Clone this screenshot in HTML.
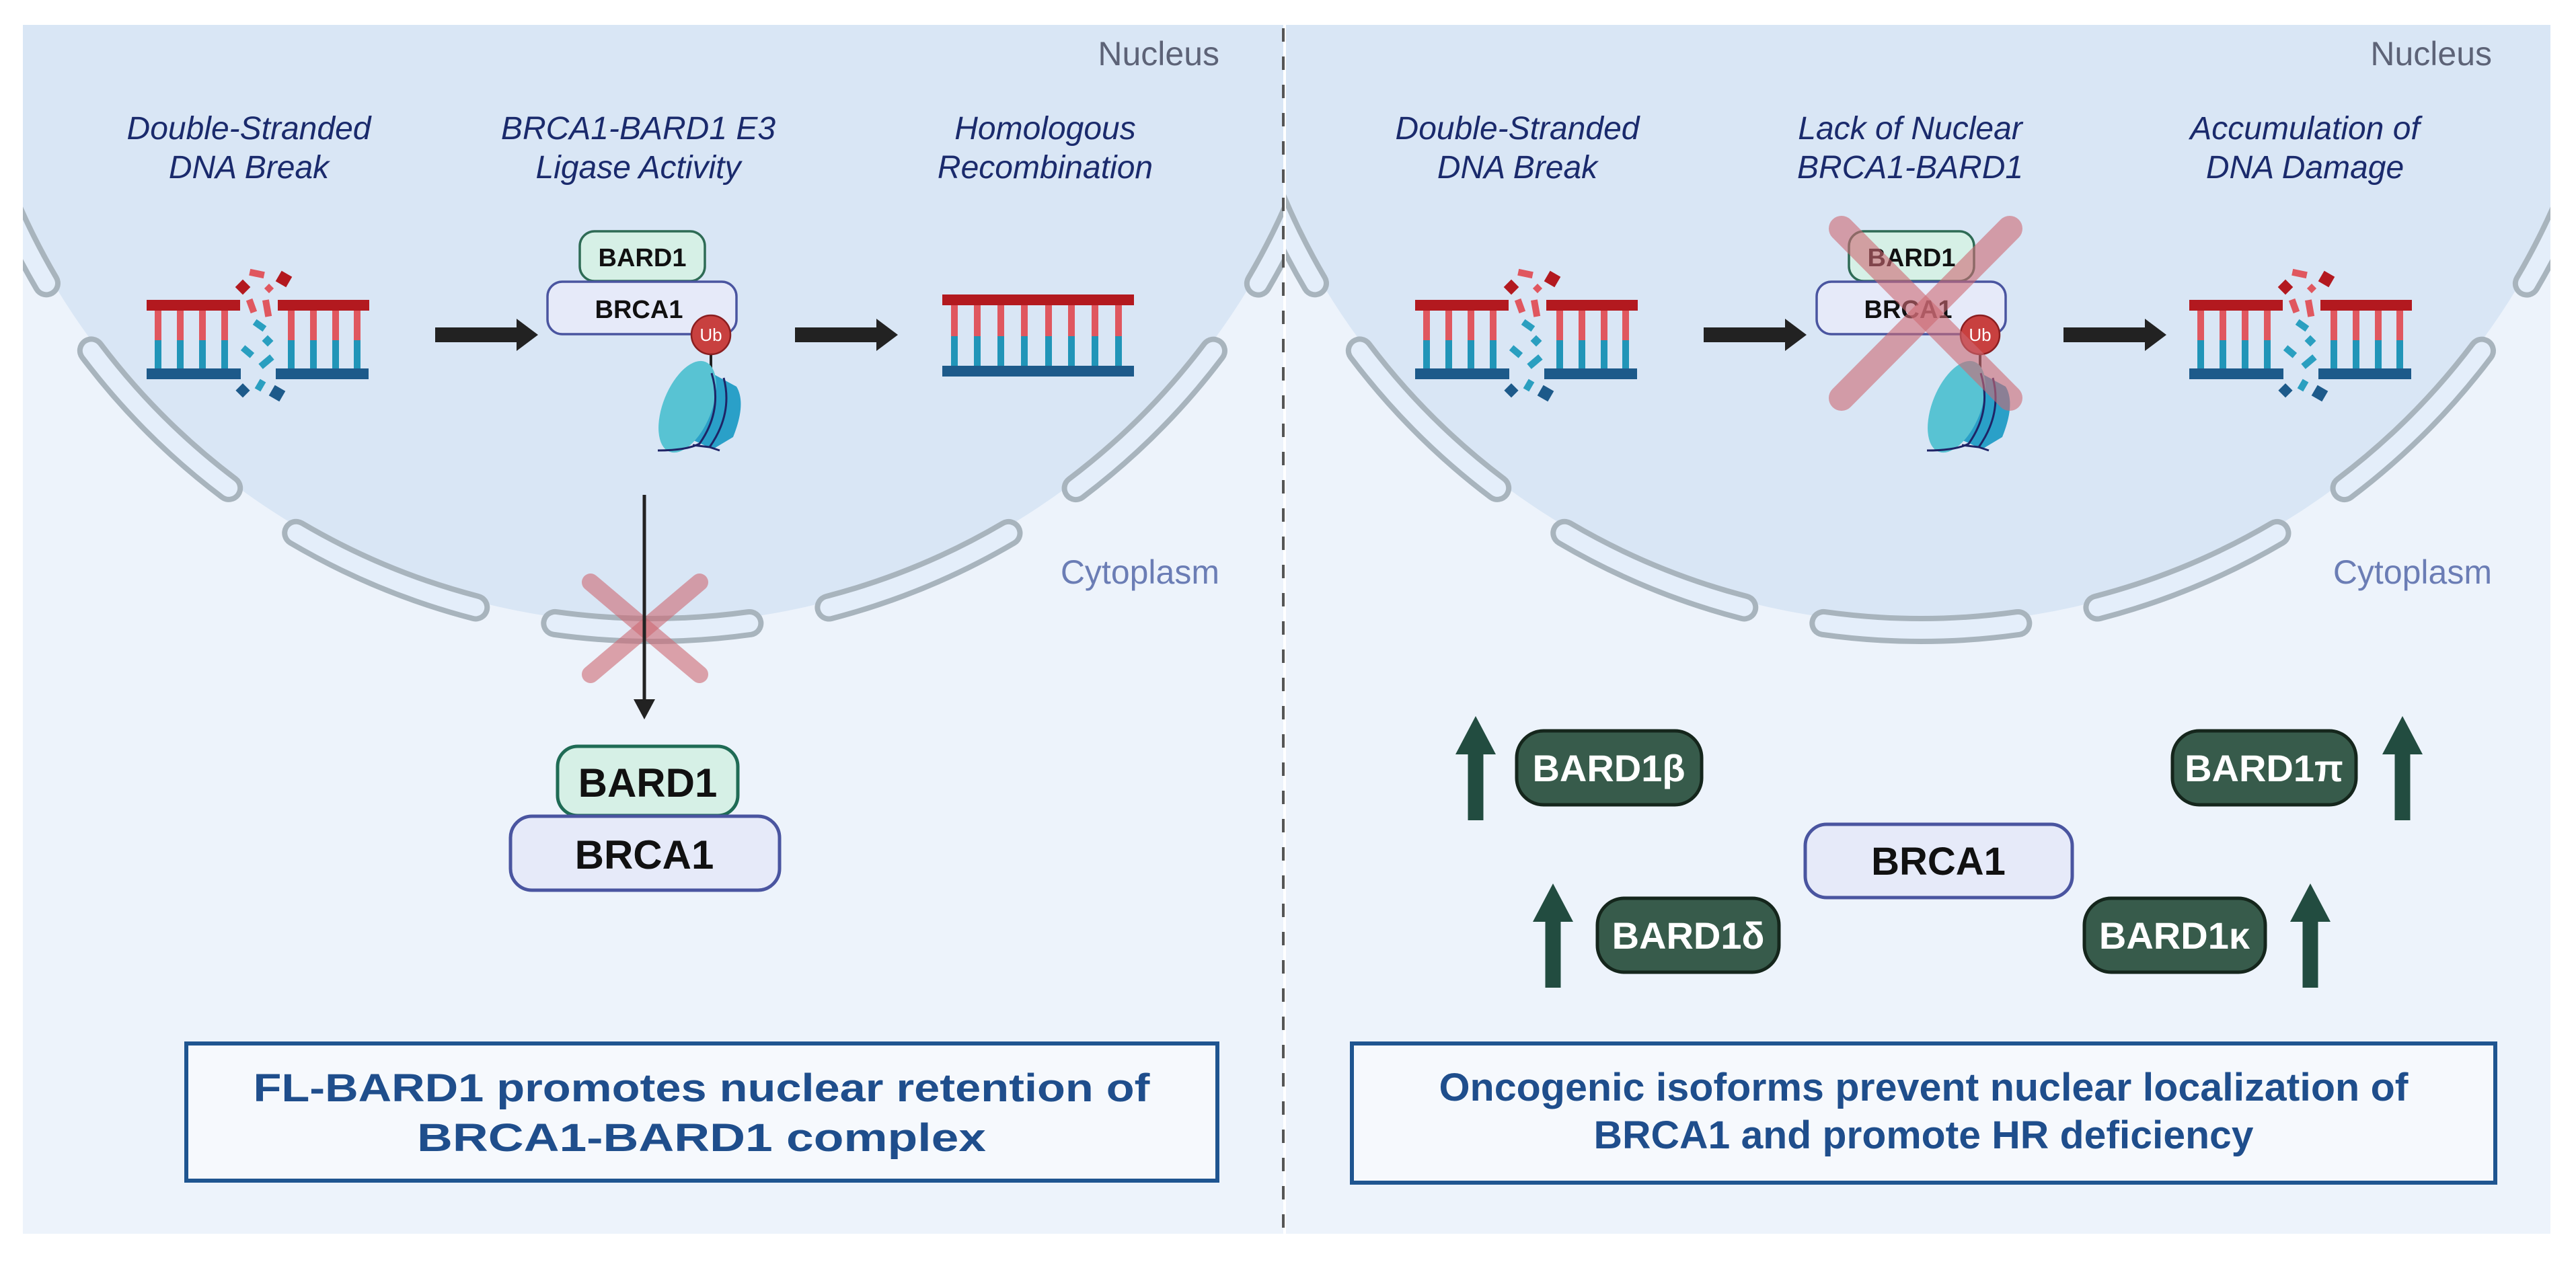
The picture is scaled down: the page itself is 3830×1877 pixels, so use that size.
<!DOCTYPE html>
<html><head><meta charset="utf-8"><style>
html,body{margin:0;padding:0;background:#fff;}
svg{display:block;}
text{font-family:"Liberation Sans",sans-serif;}
</style></head><body>
<svg width="3830" height="1877" viewBox="0 0 3830 1877" xmlns="http://www.w3.org/2000/svg">
<defs>
<clipPath id="cl"><rect x="34" y="37" width="1874" height="1798"/></clipPath>
<clipPath id="cr"><rect x="1912" y="37" width="1880" height="1798"/></clipPath>
<g id="brokenDNA">
  <rect x="218" y="446" width="139" height="16" fill="#b3191f"/>
  <rect x="413" y="446" width="136" height="16" fill="#b3191f"/>
  <rect x="218" y="548" width="140" height="16" fill="#1d5a8a"/>
  <rect x="410" y="548" width="138" height="16" fill="#1d5a8a"/>
  <g fill="#e0575f">
    <rect x="230" y="462" width="10" height="44"/><rect x="263" y="462" width="10" height="44"/><rect x="296" y="462" width="10" height="44"/><rect x="329" y="462" width="10" height="44"/>
    <rect x="428" y="462" width="10" height="44"/><rect x="461" y="462" width="10" height="44"/><rect x="494" y="462" width="10" height="44"/><rect x="526" y="462" width="10" height="44"/>
  </g>
  <g fill="#2195b8">
    <rect x="230" y="506" width="10" height="42"/><rect x="263" y="506" width="10" height="42"/><rect x="296" y="506" width="10" height="42"/><rect x="329" y="506" width="10" height="42"/>
    <rect x="428" y="506" width="10" height="42"/><rect x="461" y="506" width="10" height="42"/><rect x="494" y="506" width="10" height="42"/><rect x="526" y="506" width="10" height="42"/>
  </g>
  <rect x="371" y="402" width="22" height="10" fill="#e0575f" transform="rotate(12 382 407)"/>
  <rect x="353" y="419" width="16" height="16" fill="#b3191f" transform="rotate(45 361 427)"/>
  <rect x="413" y="406" width="18" height="18" fill="#b3191f" transform="rotate(30 422 415)"/>
  <rect x="395" y="424" width="10" height="10" fill="#e0575f" transform="rotate(45 400 429)"/>
  <rect x="364" y="450" width="20" height="10" fill="#e0575f" transform="rotate(70 374 455)"/>
  <rect x="385" y="453" width="25" height="10" fill="#e0575f" transform="rotate(80 397 458)"/>
  <rect x="377" y="479" width="18" height="10" fill="#2a9fc0" transform="rotate(35 386 484)"/>
  <rect x="392" y="501" width="12" height="12" fill="#2a9fc0" transform="rotate(45 398 507)"/>
  <rect x="359" y="518" width="18" height="10" fill="#2a9fc0" transform="rotate(40 368 523)"/>
  <rect x="385" y="533" width="22" height="10" fill="#2a9fc0" transform="rotate(-40 396 538)"/>
  <rect x="379" y="568" width="16" height="10" fill="#2a9fc0" transform="rotate(-60 387 573)"/>
  <rect x="354" y="573" width="15" height="15" fill="#1d5a8a" transform="rotate(45 361 580)"/>
  <rect x="403" y="576" width="18" height="18" fill="#1d5a8a" transform="rotate(30 412 585)"/>
</g>
<g id="protein">
  <rect x="862" y="344" width="186" height="74" rx="22" fill="#d6f0e6" stroke="#2e6b55" stroke-width="3.5"/>
  <rect x="814" y="419" width="281" height="78" rx="22" fill="#e6eaf9" stroke="#4a55a0" stroke-width="3.5"/>
  <text x="955" y="396" font-size="38" font-weight="bold" text-anchor="middle" fill="#111">BARD1</text>
  <text x="950" y="473" font-size="38" font-weight="bold" text-anchor="middle" fill="#111">BRCA1</text>
  <line x1="1057" y1="520" x2="1057" y2="556" stroke="#222" stroke-width="4"/>
  <path d="M1045 548 L1095 575 Q1110 600 1090 650 L1060 668 L1020 650 Z" fill="#2aa0c8"/>
  <ellipse cx="1022" cy="605" rx="36" ry="72" transform="rotate(22 1022 605)" fill="#58c3d3"/>
  <path d="M1058 555 Q1075 610 1040 660 Q1020 670 978 670" stroke="#1e2466" stroke-width="3" fill="none"/>
  <path d="M1076 562 Q1090 615 1055 665 L1030 662" stroke="#1e2466" stroke-width="3" fill="none"/>
  <path d="M1055 665 L1070 670" stroke="#1e2466" stroke-width="3" fill="none"/>
  <circle cx="1057" cy="498" r="29" fill="#c8403f" stroke="#8a1e20" stroke-width="2.5"/>
  <text x="1057" y="507" font-size="26" text-anchor="middle" fill="#fff">Ub</text>
</g>
<g id="arrowR">
  <rect x="647" y="487" width="125" height="22" fill="#222"/>
  <path d="M768 474 L800 498 L768 522 Z" fill="#222"/>
</g>
<g id="upArrow">
  <rect x="-11.5" y="55" width="23" height="100" fill="#224c40"/>
  <path d="M-30 57 L0 0 L30 57 Z" fill="#224c40"/>
</g>
</defs>

<!-- panels -->
<rect x="34" y="37" width="1874" height="1798" fill="#edf3fb"/>
<rect x="1912" y="37" width="1880" height="1798" fill="#edf3fb"/>
<g clip-path="url(#cl)">
  <circle cx="970" cy="-108" r="1036" fill="#d9e6f5"/>
  <circle cx="970" cy="-108" r="1045" fill="none" stroke="#a8b4bd" stroke-width="42" stroke-linecap="round" stroke-dasharray="290 120.4" stroke-dashoffset="145"/>
  <circle cx="970" cy="-108" r="1045" fill="none" stroke="#e4eefa" stroke-width="26" stroke-linecap="round" stroke-dasharray="290 120.4" stroke-dashoffset="145"/>
</g>
<g clip-path="url(#cr)">
  <circle cx="2856" cy="-108" r="1036" fill="#d9e6f5"/>
  <circle cx="2856" cy="-108" r="1045" fill="none" stroke="#a8b4bd" stroke-width="42" stroke-linecap="round" stroke-dasharray="290 120.4" stroke-dashoffset="145"/>
  <circle cx="2856" cy="-108" r="1045" fill="none" stroke="#e4eefa" stroke-width="26" stroke-linecap="round" stroke-dasharray="290 120.4" stroke-dashoffset="145"/>
</g>
<line x1="1908" y1="42" x2="1908" y2="1835" stroke="#555" stroke-width="4" stroke-dasharray="20 22"/>

<!-- region labels -->
<text x="1813" y="97" font-size="50" text-anchor="end" fill="#5d6377">Nucleus</text>
<text x="1813" y="868" font-size="50" text-anchor="end" fill="#6b7db5">Cytoplasm</text>
<text x="3705" y="97" font-size="50" text-anchor="end" fill="#5d6377">Nucleus</text>
<text x="3705" y="868" font-size="50" text-anchor="end" fill="#6b7db5">Cytoplasm</text>

<!-- step labels -->
<g font-size="48" font-style="italic" fill="#1a2a6c" text-anchor="middle">
  <text x="370" y="207">Double-Stranded</text><text x="370" y="265">DNA Break</text>
  <text x="949" y="207">BRCA1-BARD1 E3</text><text x="949" y="265">Ligase Activity</text>
  <text x="1554" y="207">Homologous</text><text x="1554" y="265">Recombination</text>
  <text x="2256" y="207">Double-Stranded</text><text x="2256" y="265">DNA Break</text>
  <text x="2840" y="207">Lack of Nuclear</text><text x="2840" y="265">BRCA1-BARD1</text>
  <text x="3427" y="207">Accumulation of</text><text x="3427" y="265">DNA Damage</text>
</g>

<!-- left panel top row -->
<use href="#brokenDNA"/>
<use href="#arrowR"/>
<use href="#protein"/>
<use href="#arrowR" transform="translate(535 0)"/>
<g>
  <rect x="1401" y="438" width="285" height="16" fill="#b3191f"/>
  <rect x="1401" y="544" width="285" height="16" fill="#1d5a8a"/>
  <g fill="#e0575f">
    <rect x="1414" y="454" width="10" height="46"/><rect x="1448" y="454" width="10" height="46"/><rect x="1483" y="454" width="10" height="46"/><rect x="1518" y="454" width="10" height="46"/>
    <rect x="1554" y="454" width="10" height="46"/><rect x="1588" y="454" width="10" height="46"/><rect x="1623" y="454" width="10" height="46"/><rect x="1658" y="454" width="10" height="46"/>
  </g>
  <g fill="#2195b8">
    <rect x="1414" y="500" width="10" height="44"/><rect x="1448" y="500" width="10" height="44"/><rect x="1483" y="500" width="10" height="44"/><rect x="1518" y="500" width="10" height="44"/>
    <rect x="1554" y="500" width="10" height="44"/><rect x="1588" y="500" width="10" height="44"/><rect x="1623" y="500" width="10" height="44"/><rect x="1658" y="500" width="10" height="44"/>
  </g>
</g>

<!-- left blocked export -->
<g stroke="rgba(205,105,115,0.6)" stroke-width="26" stroke-linecap="round">
  <line x1="878" y1="866" x2="1040" y2="1003"/>
  <line x1="1040" y1="866" x2="878" y2="1003"/>
</g>
<line x1="958" y1="736" x2="958" y2="1045" stroke="#222" stroke-width="5"/>
<path d="M942 1040 L974 1040 L958 1070 Z" fill="#222"/>

<rect x="829" y="1110" width="268" height="103" rx="30" fill="#d6f0e6" stroke="#1f6b55" stroke-width="5"/>
<rect x="759" y="1214" width="400" height="110" rx="32" fill="#e6eaf9" stroke="#4a55a0" stroke-width="5"/>
<text x="963" y="1185" font-size="60" font-weight="bold" text-anchor="middle" fill="#111">BARD1</text>
<text x="958" y="1292" font-size="60" font-weight="bold" text-anchor="middle" fill="#111">BRCA1</text>

<!-- left info box -->
<rect x="277" y="1552" width="1533" height="204" fill="#f6f9fd" stroke="#1f5590" stroke-width="6"/>
<text x="1043" y="1638" font-size="58" font-weight="bold" text-anchor="middle" fill="#1f4e8c" textLength="1333" lengthAdjust="spacingAndGlyphs">FL-BARD1 promotes nuclear retention of</text>
<text x="1043" y="1712" font-size="58" font-weight="bold" text-anchor="middle" fill="#1f4e8c" textLength="846" lengthAdjust="spacingAndGlyphs">BRCA1-BARD1 complex</text>

<!-- right panel top row -->
<use href="#brokenDNA" transform="translate(1886 0)"/>
<use href="#arrowR" transform="translate(1886 0)"/>
<use href="#protein" transform="translate(1887 0)"/>
<use href="#arrowR" transform="translate(2421 0)"/>
<use href="#brokenDNA" transform="translate(3037 0)"/>
<g stroke="rgba(205,105,115,0.6)" stroke-width="38" stroke-linecap="round">
  <line x1="2738" y1="340" x2="2988" y2="592"/>
  <line x1="2988" y1="340" x2="2738" y2="592"/>
</g>

<!-- right isoforms -->
<g stroke="#15261c" stroke-width="5" fill="#375b4b">
  <rect x="2255" y="1087" width="275" height="110" rx="40"/>
  <rect x="3230" y="1087" width="273" height="110" rx="40"/>
  <rect x="2375" y="1336" width="270" height="110" rx="40"/>
  <rect x="3099" y="1336" width="269" height="110" rx="40"/>
</g>
<rect x="2684" y="1226" width="397" height="109" rx="32" fill="#e6eaf9" stroke="#4a55a0" stroke-width="5"/>
<g font-size="56" font-weight="bold" text-anchor="middle" fill="#fff">
  <text x="2392" y="1162">BARD1β</text>
  <text x="3366" y="1162">BARD1π</text>
  <text x="2510" y="1411">BARD1δ</text>
  <text x="3233" y="1411">BARD1κ</text>
</g>
<text x="2882" y="1301" font-size="58" font-weight="bold" text-anchor="middle" fill="#111">BRCA1</text>
<use href="#upArrow" transform="translate(2194 1065)"/>
<use href="#upArrow" transform="translate(3572 1065)"/>
<use href="#upArrow" transform="translate(2309 1314)"/>
<use href="#upArrow" transform="translate(3435 1314)"/>

<!-- right info box -->
<rect x="2010" y="1552" width="1700" height="207" fill="#f6f9fd" stroke="#1f5590" stroke-width="6"/>
<text x="2860" y="1637" font-size="58" font-weight="bold" text-anchor="middle" fill="#1f4e8c" textLength="1441" lengthAdjust="spacingAndGlyphs">Oncogenic isoforms prevent nuclear localization of</text>
<text x="2860" y="1708" font-size="58" font-weight="bold" text-anchor="middle" fill="#1f4e8c" textLength="981" lengthAdjust="spacingAndGlyphs">BRCA1 and promote HR deficiency</text>
</svg>
</body></html>
